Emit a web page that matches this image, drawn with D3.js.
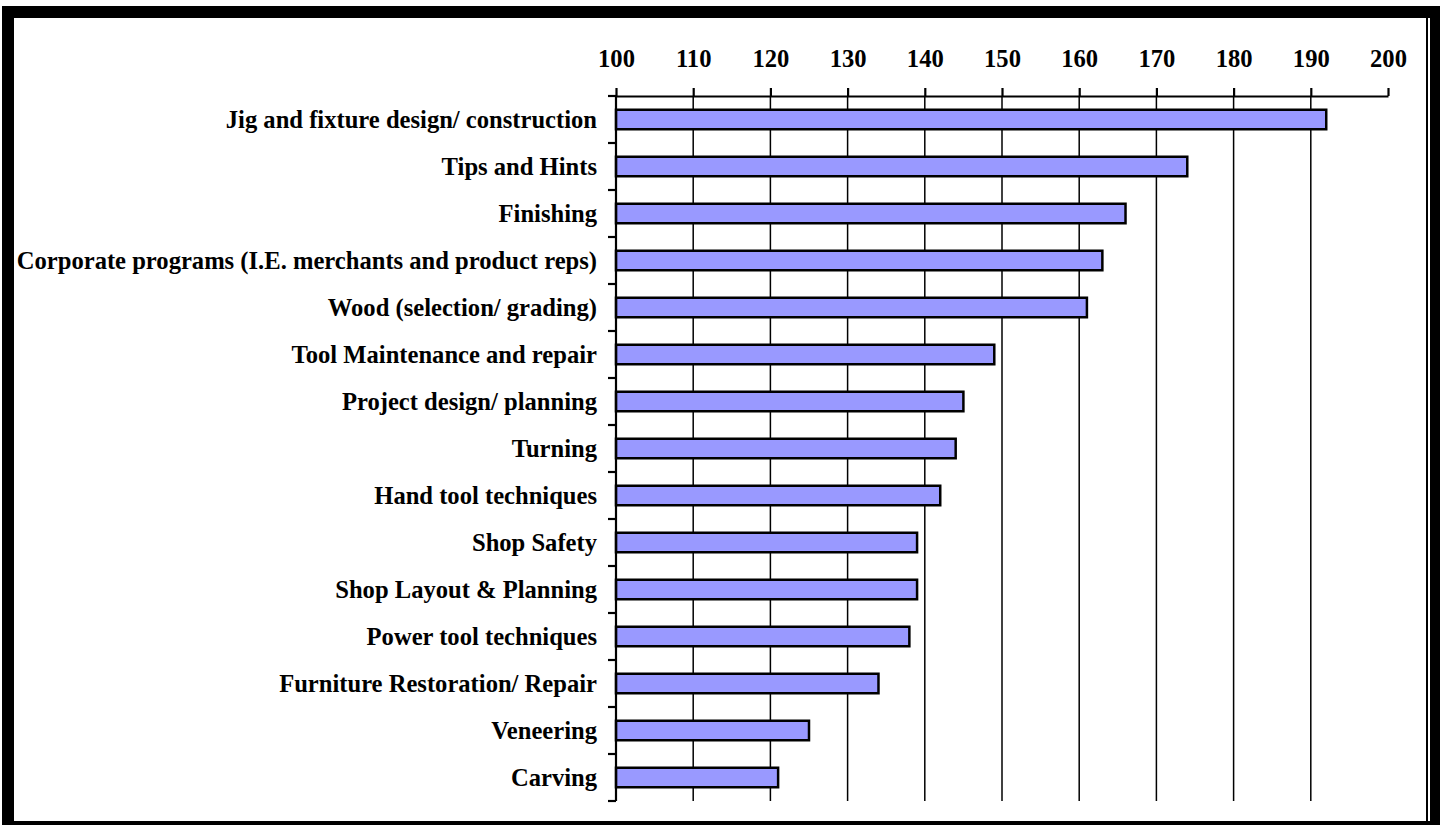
<!DOCTYPE html>
<html>
<head>
<meta charset="utf-8">
<script src="https://cdn.jsdelivr.net/npm/d3@7"></script>
<style>
  html, body { margin: 0; padding: 0; background: #fff; }
  svg { display: block; }
</style>
</head>
<body>
<div id="grafico"></div>
<script>
const categorias = [
    "Jig and fixture design/ construction",
    "Tips and Hints",
    "Finishing",
    "Corporate programs (I.E. merchants and product reps)",
    "Wood (selection/ grading)",
    "Tool Maintenance and repair",
    "Project design/ planning",
    "Turning",
    "Hand tool techniques",
    "Shop Safety",
    "Shop Layout & Planning",
    "Power tool techniques",
    "Furniture Restoration/ Repair",
    "Veneering",
    "Carving"
];
const valores = [192, 174, 166, 163, 161, 149, 145, 144, 142, 139, 139, 138, 134, 125, 121];
const ticksX = [100, 110, 120, 130, 140, 150, 160, 170, 180, 190, 200];

const largura = 1440;
const altura = 825;
const margem = { top: 96, right: 52, bottom: 24, left: 616 };
const fonte = "'Liberation Serif', 'Times New Roman', serif";
const tamanhoFonte = "24.6px";

const dados = categorias.map((c, i) => ({ categoria: c, valor: valores[i] }));

const svg = d3.select("#grafico").append("svg")
    .attr("width", largura)
    .attr("height", altura);

// Moldura preta com sombra
svg.append("rect")
    .attr("x", 2).attr("y", 6)
    .attr("width", largura - 2).attr("height", altura - 6)
    .attr("fill", "#000");
svg.append("rect")
    .attr("x", 14).attr("y", 18)
    .attr("width", 1412).attr("height", 803)
    .attr("fill", "#fff");
svg.append("rect")
    .attr("x", 1428).attr("y", 18)
    .attr("width", 2).attr("height", 803)
    .attr("fill", "#fff");

// Escalas
const escalaX = d3.scaleLinear()
    .domain([100, 200])
    .range([margem.left, largura - margem.right]);

const escalaY = d3.scaleBand()
    .domain(categorias)
    .range([margem.top, altura - margem.bottom])
    .paddingInner(0.585)
    .paddingOuter(0.2925);

const passo = escalaY.step();
const fundoY = altura - margem.bottom;

// Grade vertical
svg.append("g")
    .selectAll("line")
    .data(ticksX.filter(t => t > 100 && t < 200))
    .join("line")
    .attr("x1", d => escalaX(d))
    .attr("x2", d => escalaX(d))
    .attr("y1", margem.top)
    .attr("y2", fundoY)
    .attr("stroke", "#000")
    .attr("stroke-width", 1.5);

// Barras
svg.append("g")
    .selectAll("rect")
    .data(dados)
    .join("rect")
    .attr("x", escalaX(100))
    .attr("y", d => escalaY(d.categoria))
    .attr("width", d => escalaX(d.valor) - escalaX(100))
    .attr("height", escalaY.bandwidth())
    .attr("fill", "#9999ff")
    .attr("stroke", "#000")
    .attr("stroke-width", 2.5);

// Eixo X no topo
const eixoX = svg.append("g")
    .attr("transform", `translate(0,${margem.top})`)
    .call(d3.axisTop(escalaX).tickValues(ticksX).tickSize(8).tickSizeOuter(0).tickPadding(21));
eixoX.select(".domain").attr("stroke-width", 2.2);
eixoX.selectAll(".tick line").attr("stroke-width", 2.2);
eixoX.selectAll("text")
    .attr("font-family", fonte)
    .attr("font-weight", "bold")
    .attr("font-size", tamanhoFonte)
    .attr("fill", "#000");

// Eixo Y (linha e marcas nos limites das categorias)
svg.append("line")
    .attr("x1", escalaX(100)).attr("x2", escalaX(100))
    .attr("y1", margem.top).attr("y2", fundoY)
    .attr("stroke", "#000")
    .attr("stroke-width", 2.2);

const limites = categorias.map(c => escalaY(c) - passo * escalaY.paddingOuter());
limites.push(limites[limites.length - 1] + passo);

svg.append("g")
    .selectAll("line")
    .data(limites)
    .join("line")
    .attr("x1", escalaX(100) - 8)
    .attr("x2", escalaX(100))
    .attr("y1", d => d)
    .attr("y2", d => d)
    .attr("stroke", "#000")
    .attr("stroke-width", 2.2);

// Rótulos das categorias
svg.append("g")
    .selectAll("text")
    .data(dados)
    .join("text")
    .attr("x", escalaX(100) - 19)
    .attr("y", d => escalaY(d.categoria) + escalaY.bandwidth() / 2)
    .attr("dy", "0.33em")
    .attr("text-anchor", "end")
    .attr("font-family", fonte)
    .attr("font-weight", "bold")
    .attr("font-size", tamanhoFonte)
    .attr("fill", "#000")
    .text(d => d.categoria);
</script>
</body>
</html>
